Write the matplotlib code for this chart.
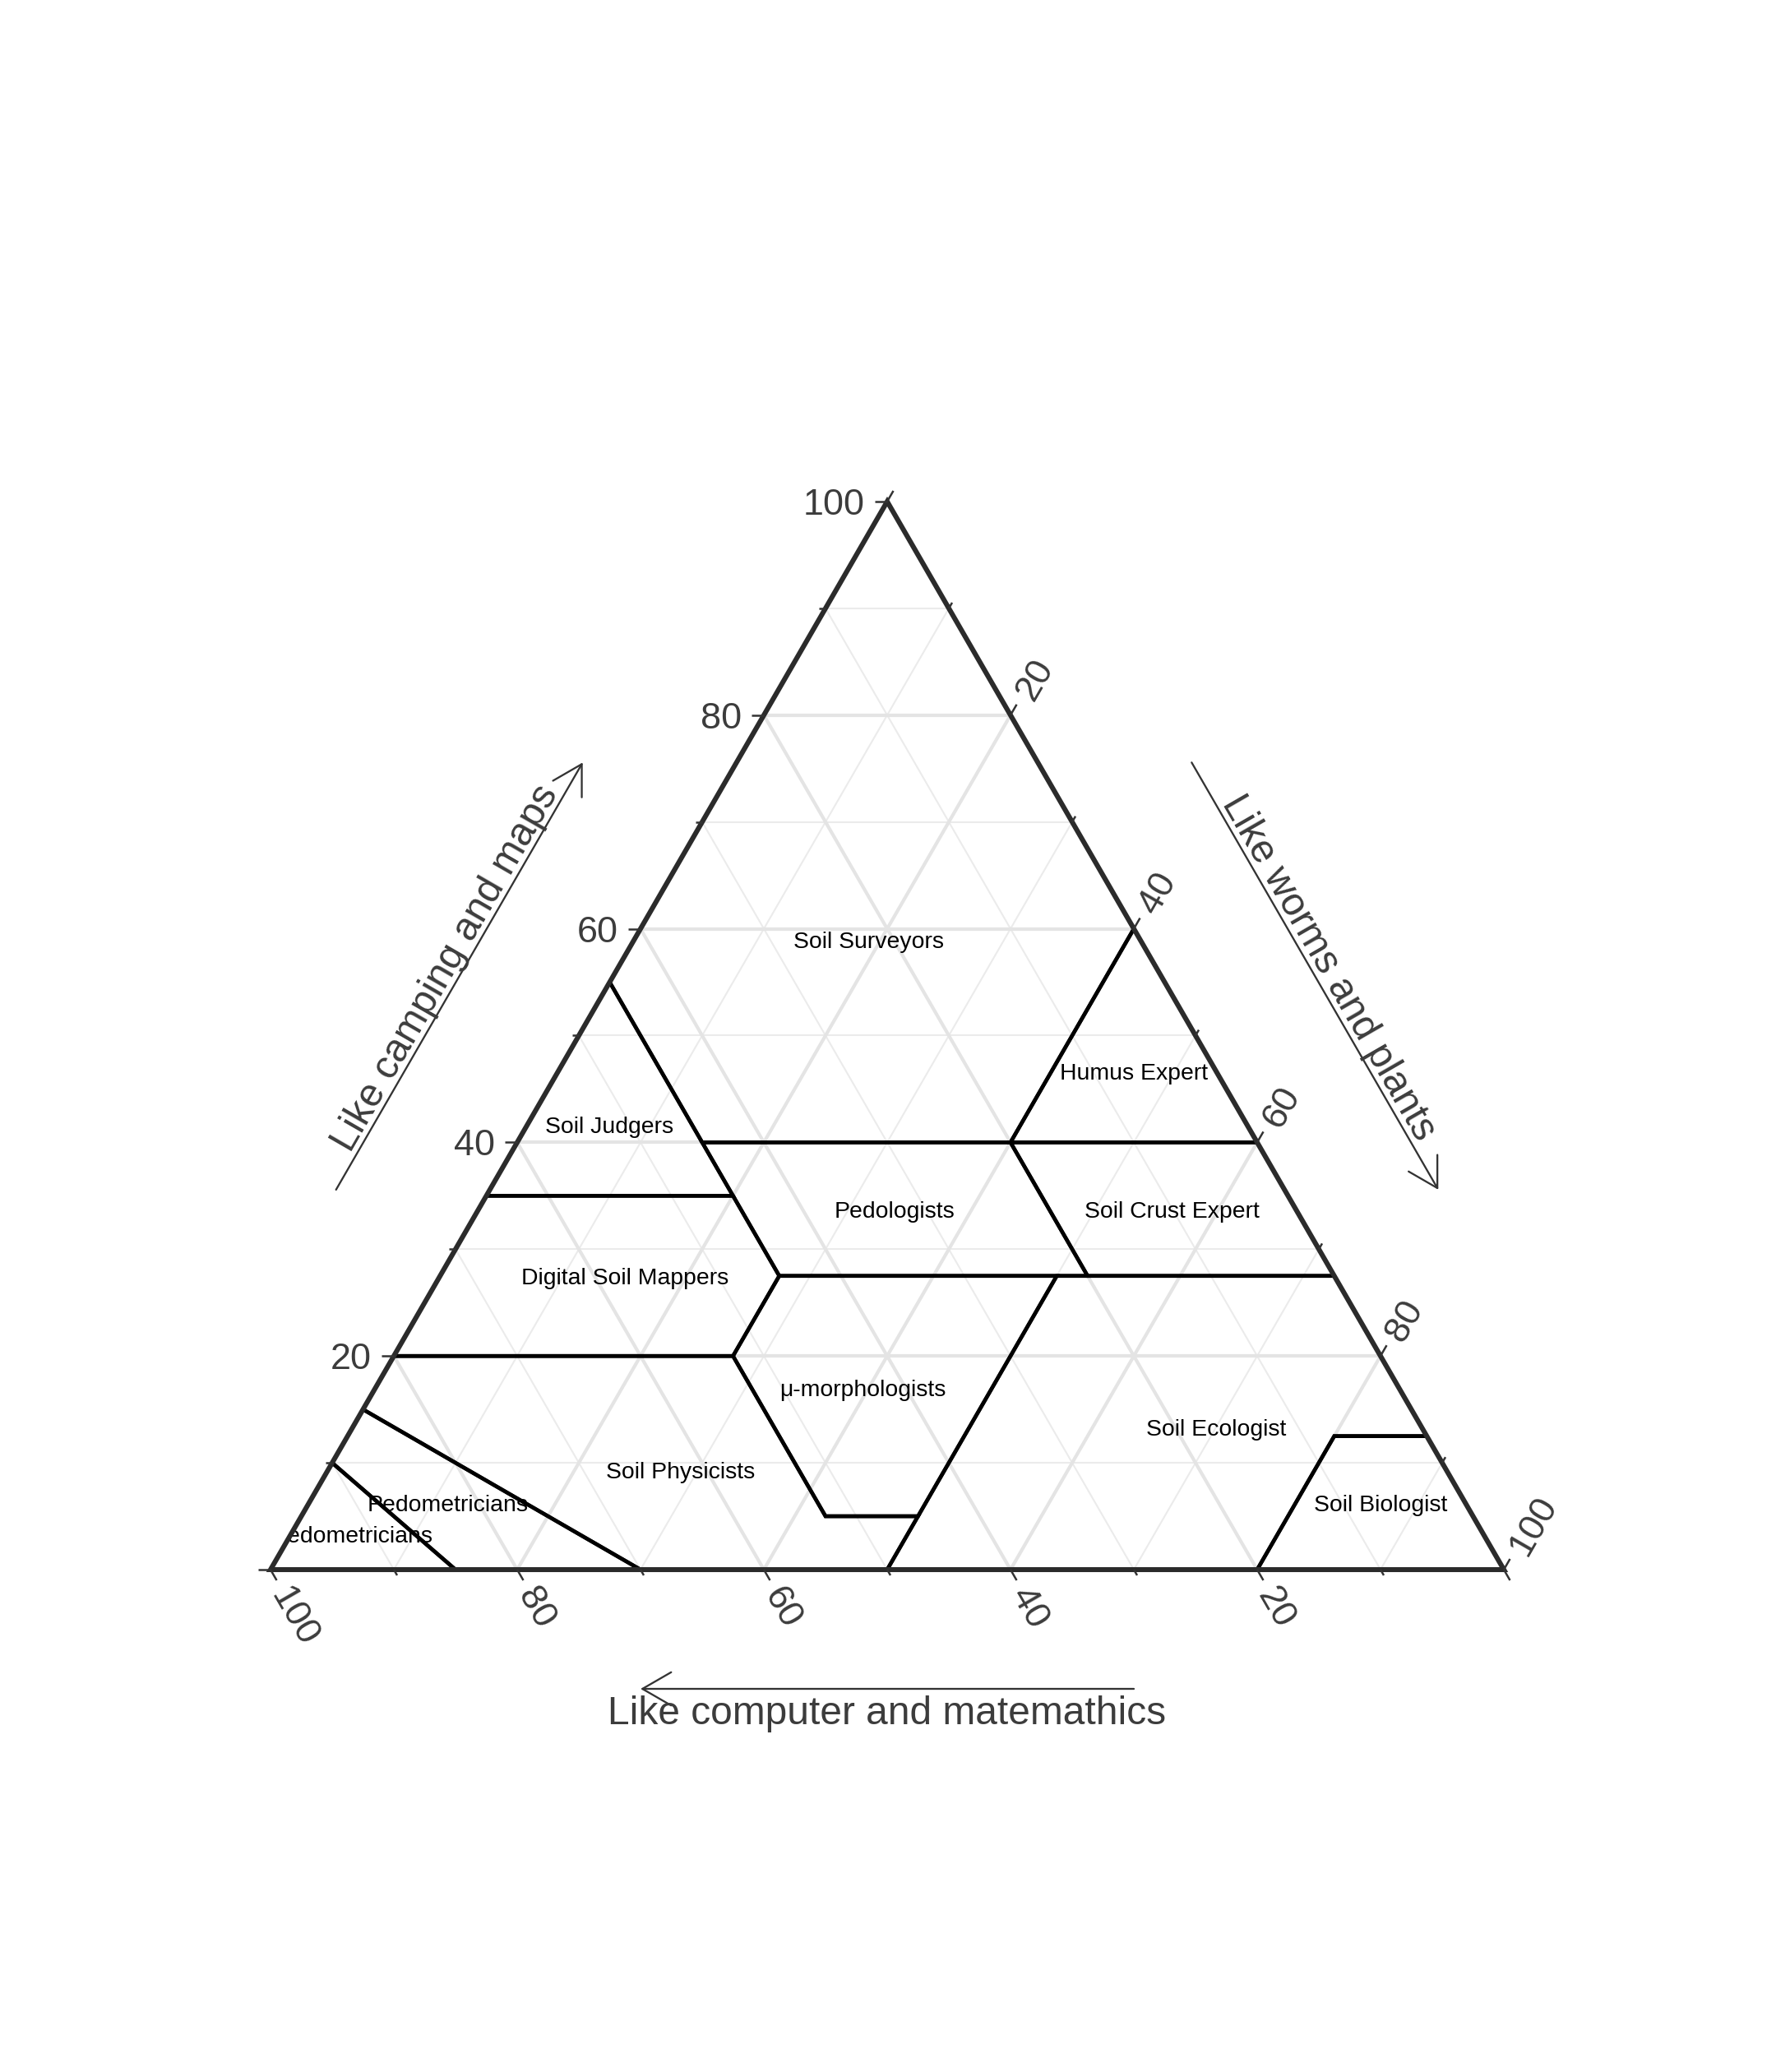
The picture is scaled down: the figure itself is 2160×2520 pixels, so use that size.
import numpy as np
import matplotlib
matplotlib.use("Agg")
import matplotlib.pyplot as plt
from matplotlib.patches import Polygon, FancyArrowPatch, PathPatch
from matplotlib.path import Path

plt.rcParams['font.family'] = ['Liberation Sans', 'DejaVu Sans']

# ---------------- data (camping, computer, worms) in % ----------------
soil_surveyors = [(55, 45, 0), (100, 0, 0), (60, 0, 40), (40, 20, 40), (40, 45, 15)]
soil_judgers = [(55, 45, 0), (35, 45, 20), (35, 65, 0)]
digital_soil_mappers = [(35, 65, 0), (35, 45, 20), (27.5, 45, 27.5), (20, 52.5, 27.5), (20, 80, 0)]
pedologists = [(40, 45, 15), (40, 20, 40), (27.5, 20, 52.5), (27.5, 45, 27.5)]
humus_expert = [(60, 0, 40), (40, 20, 40), (40, 0, 60)]
soil_crust_expert = [(40, 20, 40), (40, 0, 60), (27.5, 0, 72.5), (27.5, 20, 52.5)]
micro_morphologists = [(27.5, 45, 27.5), (27.5, 22.5, 50), (5, 45, 50), (5, 52.5, 42.5), (20, 52.5, 27.5)]
soil_physicists = [(20, 80, 0), (20, 52.5, 27.5), (5, 52.5, 42.5), (5, 45, 50), (0, 50, 50), (0, 70, 30), (15, 85, 0)]
soil_ecologist = [(27.5, 22.5, 50), (27.5, 0, 72.5), (12.5, 0, 87.5), (12.5, 7.5, 80), (0, 20, 80), (0, 50, 50)]
soil_biologist = [(12.5, 7.5, 80), (12.5, 0, 87.5), (0, 0, 100), (0, 20, 80)]
pedometricians_a = [(15, 85, 0), (10, 90, 0), (0, 85, 15), (0, 70, 30)]
pedometricians_b = [(10, 90, 0), (0, 100, 0), (0, 85, 15)]

region_names = ["Soil Surveyors", "Soil Judgers", "Digital Soil Mappers", "Pedologists",
                "Humus Expert", "Soil Crust Expert", "\u03bc-morphologists", "Soil Physicists",
                "Soil Ecologist", "Soil Biologist", "Pedometricians", "Pedometricians"]
region_polys = [soil_surveyors, soil_judgers, digital_soil_mappers, pedologists,
                humus_expert, soil_crust_expert, micro_morphologists, soil_physicists,
                soil_ecologist, soil_biologist, pedometricians_a, pedometricians_b]

tick_values = list(range(0, 101, 10))
label_values = [20, 40, 60, 80, 100]
major_grid = [20, 40, 60, 80]
minor_grid = [10, 30, 50, 70, 90]

title_camping = "Like camping and maps"
title_worms = "Like worms and plants"
title_computer = "Like computer and matemathics"

# ---------------- helpers ----------------
S3 = np.sqrt(3) / 2
PX = 1.0 / 1500.0  # data units per output pixel


def txy(a, b, c):
    s = a + b + c
    return (c + a / 2.0) / s, (a * S3) / s


fig = plt.figure(figsize=(7.2, 8.4), dpi=300)
ax = fig.add_axes([0, 0, 1, 1])
XL = (-329 * PX, (2160 - 329) * PX)
YL = ((1909 - 2520) * PX, 1909 * PX)
ax.set_xlim(*XL)
ax.set_ylim(*YL)
ax.axis('off')

# grid
for v in minor_grid + major_grid:
    lw, col = (1.0, '#e4e4e4') if v in major_grid else (0.5, '#ebebeb')
    for p, q in [((v, 100 - v, 0), (v, 0, 100 - v)),
                 ((100 - v, v, 0), (0, v, 100 - v)),
                 ((100 - v, 0, v), (0, 100 - v, v))]:
        x0, y0 = txy(*p)
        x1, y1 = txy(*q)
        ax.plot([x0, x1], [y0, y1], color=col, lw=lw, zorder=1, solid_capstyle='butt')

# triangle
tri_pts = [txy(100, 0, 0), txy(0, 100, 0), txy(0, 0, 100)]
clip_tri = Polygon(tri_pts, closed=True, facecolor='none', edgecolor='none')
ax.add_patch(clip_tri)

# regions
for name, poly in zip(region_names, region_polys):
    pts = [txy(*p) for p in poly]
    patch = Polygon(pts, closed=True, facecolor='none', edgecolor='black', lw=1.1,
                    zorder=3, joinstyle='miter')
    ax.add_patch(patch)
    patch.set_clip_path(clip_tri)
    ca = np.mean([p[0] for p in poly])
    cb = np.mean([p[1] for p in poly])
    cc = np.mean([p[2] for p in poly])
    lx, ly = txy(ca, cb, cc)
    ax.text(lx, ly, name, ha='center', va='center_baseline', fontsize=6.8, color='black',
            zorder=4)

# white mask outside the triangle (labels are cut at the triangle edge)
outer = [(XL[0], YL[0]), (XL[1], YL[0]), (XL[1], YL[1]), (XL[0], YL[1]), (XL[0], YL[0])]
inner = [tri_pts[0], tri_pts[2], tri_pts[1], tri_pts[0]]
verts = outer + inner
codes = [Path.MOVETO] + [Path.LINETO] * 3 + [Path.CLOSEPOLY] + [Path.MOVETO] + [Path.LINETO] * 2 + [Path.CLOSEPOLY]
ax.add_patch(PathPatch(Path(verts, codes), facecolor='white', edgecolor='none', zorder=4.5))

border = Polygon(tri_pts, closed=True, facecolor='none', edgecolor='#2b2b2b', lw=1.45,
                 zorder=5, joinstyle='miter')
ax.add_patch(border)

# ticks and labels
tick_col = '#333333'
lab_col = '#3c3c3c'
maj_len = 15 * PX
min_len = 8 * PX
gap = 12 * PX
axes_spec = [
    (lambda v: txy(v, 100 - v, 0), (-1.0, 0.0), 0, 'right'),
    (lambda v: txy(0, v, 100 - v), (0.5, -S3), -60, 'left'),
    (lambda v: txy(100 - v, 0, v), (0.5, S3), 60, 'left'),
]
for base, (dx, dy), rot, ha in axes_spec:
    for v in tick_values:
        bx, by = base(v)
        L = maj_len if v % 20 == 0 else min_len
        ax.plot([bx, bx + dx * L], [by, by + dy * L], color=tick_col, lw=0.6, zorder=5,
                solid_capstyle='butt')
        if v in label_values:
            d = maj_len + gap
            ax.text(bx + dx * d, by + dy * d, str(v), rotation=rot, rotation_mode='anchor',
                    ha=ha, va='center_baseline', fontsize=10.8, color=lab_col, zorder=6)

# axis titles with arrows
arrow_style = '->,head_length=8.4,head_width=4.85'


def side_arrow(p_start, p_end, off_n, shift_t, text, text_off, rot):
    (x0, y0), (x1, y1) = p_start, p_end
    ux, uy = x1 - x0, y1 - y0
    ln = np.hypot(ux, uy)
    ux, uy = ux / ln, uy / ln
    nx, ny = -uy, ux  # outward normal
    mx = (x0 + x1) / 2 + nx * off_n + ux * shift_t
    my = (y0 + y1) / 2 + ny * off_n + uy * shift_t
    half = 0.2 * ln
    a0 = (mx - ux * half, my - uy * half)
    a1 = (mx + ux * half, my + uy * half)
    arr = FancyArrowPatch(a0, a1, arrowstyle=arrow_style, mutation_scale=1, lw=0.55,
                          color='#333333', zorder=6, shrinkA=0, shrinkB=0)
    ax.add_patch(arr)
    tx, ty = mx + nx * text_off, my + ny * text_off
    ax.text(tx, ty, text, rotation=rot, rotation_mode='anchor', ha='center', va='baseline',
            fontsize=11.5, color=lab_col, zorder=6)


# left side: bottom-left vertex -> top vertex (arrow points up)
side_arrow(txy(0, 100, 0), txy(100, 0, 0), 162 * PX, -10 * PX, title_camping, 7 * PX, 60)
# right side: top vertex -> bottom-right vertex (arrow points down)
side_arrow(txy(100, 0, 0), txy(0, 0, 100), 162 * PX, 10 * PX, title_worms, 7 * PX, -60)
# bottom: bottom-right vertex -> bottom-left vertex (arrow points left)
side_arrow(txy(0, 0, 100), txy(0, 100, 0), 145 * PX, 0, title_computer, 43 * PX, 0)

fig.savefig('out.png', dpi=300, facecolor='white')
